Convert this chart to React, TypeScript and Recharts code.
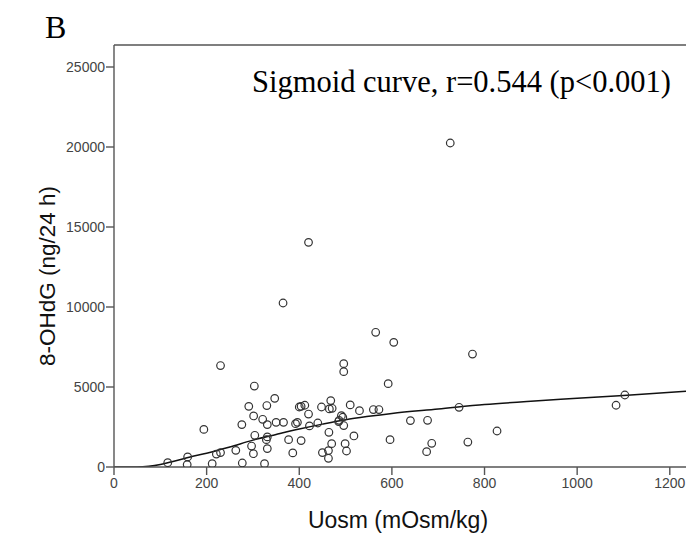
import React, { useLayoutEffect } from "react";
import { ComposedChart, Scatter, Line, XAxis, YAxis, ReferenceLine } from "recharts";

// Observed measurements: Uosm (mOsm/kg) vs 8-OHdG (ng/24 h)
const uosm = [
  116, 158, 159, 194, 212, 221, 230, 230, 263, 276, 277, 291, 297, 301, 301.5, 303, 304, 321, 325, 329,
  330, 331, 331, 331, 347, 350, 365, 366, 377, 386, 392, 396, 400, 404, 404, 412, 420, 420, 422, 440,
  448, 450, 463, 463, 464, 465, 468, 470, 471, 485, 486, 491, 494, 496, 496, 496, 499, 502, 510, 518,
  530, 560, 565, 572, 592, 596, 604, 640, 675, 677, 686, 726, 745, 764, 774, 827, 1084, 1103,
];
const ohdg = [
  270, 150, 630, 2350, 210, 810, 900, 6340, 1040, 2650, 250, 3790, 1310, 830, 3190, 5060, 1980, 2980, 210, 1710,
  3840, 1880, 1150, 2650, 4290, 2790, 10250, 2790, 1710, 880, 2710, 2790, 3750, 3790, 1650, 3860, 3310, 14040, 2570, 2750,
  3750, 900, 1025, 545, 2170, 3630, 4150, 1460, 3670, 2840, 2920, 3210, 3110, 2590, 6460, 5960, 1460, 1000, 3880, 1940,
  3520, 3590, 8420, 3590, 5210, 1710, 7790, 2900, 960, 2920, 1480, 20250, 3730, 1560, 7060, 2250, 3860, 4500,
];

// Fitted sigmoid curve
const curveX = [0, 50, 75, 100, 125, 150, 175, 200, 250, 300, 350, 400, 450, 500, 550, 600, 700, 800, 900, 1000, 1100, 1235];
const curveY = [0, 0, 40, 150, 330, 520, 700, 860, 1250, 1680, 2030, 2370, 2680, 2960, 3170, 3350, 3620, 3900, 4110, 4290, 4470, 4730];

const xTicks = [0, 200, 400, 600, 800, 1000, 1200];
const yTicks = [0, 5000, 10000, 15000, 20000, 25000];

const title = "Sigmoid curve, r=0.544 (p<0.001)";
const panelLabel = "B";
const xLabel = "Uosm (mOsm/kg)";
const yLabel = "8-OHdG (ng/24 h)";

const points = uosm.map((x, i) => ({ x, y: ohdg[i] }));
const curve = curveX.map((x, i) => ({ x, y: curveY[i] }));

const W = 686;
const H = 549;
const axisColor = "#555";
const tickStyle = { fontFamily: "'Liberation Sans', Arial, sans-serif", fontSize: 14, fill: "#444" };

const OpenCircle = (props: any) => {
  const { cx, cy } = props;
  if (cx == null || cy == null) return null;
  return <circle cx={cx} cy={cy} r={3.8} fill="none" stroke="#333" strokeWidth={1.2} />;
};

export default function App() {
  useLayoutEffect(() => {
    document.body.style.margin = "0";
    document.documentElement.style.overflow = "hidden";
  }, []);
  return (
    <div style={{ position: "relative", width: W, height: H, background: "#fff" }}>
      <ComposedChart width={W} height={H} margin={{ top: 45, right: 0, bottom: 0, left: 0 }}>
        <XAxis
          dataKey="x"
          type="number"
          domain={[0, 1235]}
          ticks={xTicks}
          allowDataOverflow
          interval={0}
          height={82}
          tickSize={8}
          tickMargin={3}
          stroke={axisColor}
          strokeWidth={1.4}
          tick={tickStyle}
          tickLine={{ stroke: axisColor, strokeWidth: 1.4 }}
        />
        <YAxis
          dataKey="y"
          type="number"
          domain={[0, 26375]}
          ticks={yTicks}
          allowDataOverflow
          interval={0}
          width={114}
          tickSize={8}
          tickMargin={1}
          stroke={axisColor}
          strokeWidth={1.4}
          tick={tickStyle}
          tickLine={{ stroke: axisColor, strokeWidth: 1.4 }}
        />
        <ReferenceLine y={26375} stroke={axisColor} strokeWidth={1.4} />
        <Scatter data={points} dataKey="y" shape={OpenCircle} isAnimationActive={false} />
        <Line
          data={curve}
          dataKey="y"
          type="monotone"
          dot={false}
          activeDot={false}
          stroke="#111"
          strokeWidth={1.5}
          isAnimationActive={false}
        />
      </ComposedChart>
      <svg
        width={W}
        height={H}
        style={{ position: "absolute", left: 0, top: 0, pointerEvents: "none" }}
      >
        <text x={45} y={38} fontFamily="'Liberation Serif', 'Times New Roman', serif" fontSize={32} fill="#000">
          {panelLabel}
        </text>
        <text x={252} y={92} fontFamily="'Liberation Serif', 'Times New Roman', serif" fontSize={30.5} fill="#000">
          {title}
        </text>
        <text x={398} y={528} textAnchor="middle" fontFamily="'Liberation Sans', Arial, sans-serif" fontSize={23} fill="#111">
          {xLabel}
        </text>
        <text
          x={0}
          y={0}
          textAnchor="middle"
          transform="translate(55, 276) rotate(-90)"
          fontFamily="'Liberation Sans', Arial, sans-serif"
          fontSize={22.5}
          fill="#111"
        >
          {yLabel}
        </text>
      </svg>
    </div>
  );
}
